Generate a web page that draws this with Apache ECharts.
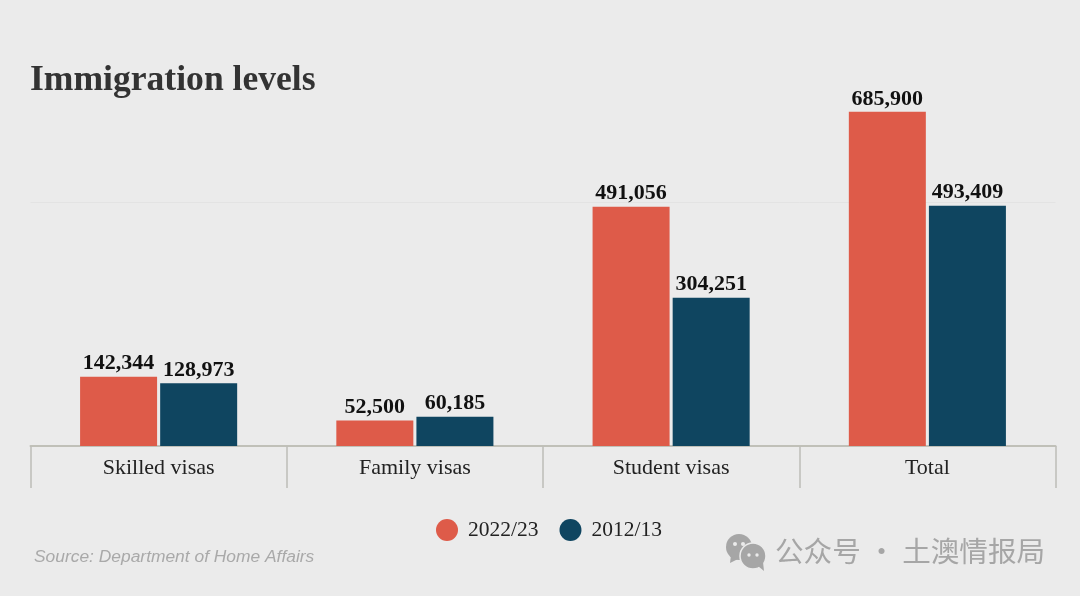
<!DOCTYPE html>
<html><head><meta charset="utf-8">
<style>html,body{margin:0;padding:0;background:#ebebeb}#c{width:1080px;height:596px}</style>
<script src="https://cdn.jsdelivr.net/npm/echarts@6/dist/echarts.min.js"></script>
</head><body><div id="c"></div>
<script>
const categories = ["Skilled visas","Family visas","Student visas","Total"];
const seriesNames = ["2022/23","2012/13"];
const values2022 = [142344,52500,491056,685900];
const values2012 = [128973,60185,304251,493409];
const SERIF = '"Liberation Serif", serif';
const chart = echarts.init(document.getElementById('c'));
const labelOpt = {show:true,position:'top',distance:2,fontFamily:SERIF,fontWeight:'bold',fontSize:22,color:'#111',
  formatter:p=>p.value.toLocaleString('en-US')};
chart.setOption({
  animation:false,
  backgroundColor:'#ebebeb',
  title:[
    {text:'Immigration levels',left:25,top:58,textStyle:{fontFamily:SERIF,fontWeight:'bold',fontSize:35.6,color:'#333'}},
    {text:'Source: Department of Home Affairs',left:29,top:544,textStyle:{fontFamily:'"Liberation Sans", sans-serif',fontStyle:'italic',fontWeight:'normal',fontSize:17.4,color:'#a9a9a9'}}
  ],
  legend:{data:seriesNames,left:431,top:514,icon:'circle',itemWidth:22,itemHeight:22,itemGap:21,
    textStyle:{fontFamily:SERIF,fontSize:21.5,color:'#222',padding:[0,0,0,5]}},
  grid:{left:30.5,right:24.5,top:105,height:341},
  xAxis:{type:'category',data:categories,
    axisLine:{lineStyle:{color:'#c0c0b8',width:2}},
    axisTick:{show:true,length:42,alignWithLabel:false,lineStyle:{color:'#bdbdb8',width:1.5}},
    axisLabel:{fontFamily:SERIF,fontSize:22,color:'#222',margin:11}},
  yAxis:{type:'value',min:0,max:700000,interval:500000,
    axisLabel:{show:false},axisLine:{show:false},axisTick:{show:false},
    splitLine:{show:true,showMinLine:false,showMaxLine:false,lineStyle:{color:'#e3e3e3',width:1}}},
  series:[
    {name:seriesNames[0],type:'bar',data:values2022,barWidth:77,barGap:'4%',itemStyle:{color:'#de5b49'},label:labelOpt},
    {name:seriesNames[1],type:'bar',data:values2012,barWidth:77,itemStyle:{color:'#0f4560'},label:labelOpt}
  ],
  graphic:[
    {type:'group',left:726,top:534,silent:true,children:[
      {type:'circle',shape:{cx:13,cy:12,r:13},style:{fill:'#a6a6a6'}},
      {type:'polygon',shape:{points:[[5,20],[4,28],[12,24]]},style:{fill:'#a6a6a6'}},
      {type:'circle',shape:{cx:9,cy:9,r:2},style:{fill:'#ebebeb'}},
      {type:'circle',shape:{cx:17,cy:9,r:2},style:{fill:'#ebebeb'}},
      {type:'circle',shape:{cx:27,cy:21,r:13},style:{fill:'#a6a6a6',stroke:'#ebebeb',lineWidth:1.5}},
      {type:'polygon',shape:{points:[[32,31],[38,36],[37,27]]},style:{fill:'#a6a6a6'}},
      {type:'circle',shape:{cx:23,cy:20,r:1.7},style:{fill:'#ebebeb'}},
      {type:'circle',shape:{cx:31,cy:20,r:1.7},style:{fill:'#ebebeb'}}
    ]},
    {type:'text',left:775,top:537,silent:true,style:{text:'公众号 · 土澳情报局',fontFamily:'"Noto Sans CJK SC", sans-serif',fontSize:28.6,fill:'#a6a6a6'}}
  ]
});
</script></body></html>
